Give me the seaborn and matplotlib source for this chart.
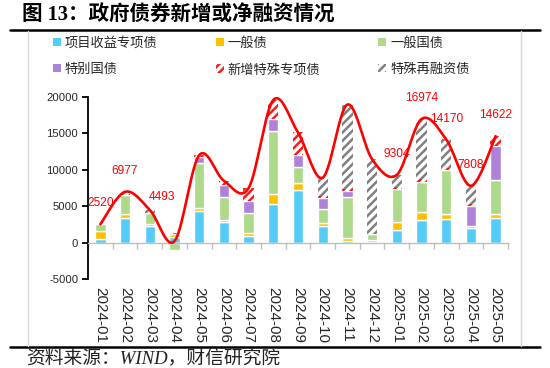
import numpy as np
import pandas as pd
import matplotlib
matplotlib.use("Agg")
import matplotlib.pyplot as plt
import seaborn as sns
from matplotlib.patches import Patch
from matplotlib.lines import Line2D

# ---------------- data ----------------
months = ["2024-01", "2024-02", "2024-03", "2024-04", "2024-05", "2024-06",
          "2024-07", "2024-08", "2024-09", "2024-10", "2024-11", "2024-12",
          "2025-01", "2025-02", "2025-03", "2025-04", "2025-05"]
project_special = [500, 3400, 2250, 780, 4280, 2800, 960, 5280, 7170, 2340,
                   280, 100, 1790, 3170, 3260, 2030, 3400]
general_local = [1150, 550, 320, 370, 460, 370, 420, 1380, 1060, 380,
                 300, 300, 1010, 1060, 600, 220, 460]
general_treasury = [870, 2650, 1520, -1050, 6200, 3080, 2660, 8610, 2210, 1830,
                    5700, 850, 4510, 4090, 6120, -150, 4740]
special_treasury = [0, 0, 0, 0, 830, 1700, 1660, 1650, 1660, 1620,
                    780, 0, 0, 0, 0, 2760, 4690]
new_special_bond = [0, 0, 0, 0, 80, 550, 1790, 2670, 3030, 220,
                    300, 0, 280, 460, 270, 240, 1332]
special_refinance = [0, 377, 403, 100, 150, 0, 0, 0, 0, 2530,
                     11600, 10200, 1714, 8194, 3920, 2708, 0]
label_months = ["2024-01", "2024-02", "2024-03", "2025-01", "2025-02",
                "2025-03", "2025-04", "2025-05"]
label_values = [2520, 6977, 4493, 9304, 16974, 14170, 7808, 14622]
y_ticks = [-5000, 0, 5000, 10000, 15000, 20000]

series_names = ["项目收益专项债", "一般债", "一般国债", "特别国债", "新增特殊专项债", "特殊再融资债"]
df = pd.DataFrame({
    "month": months,
    series_names[0]: project_special,
    series_names[1]: general_local,
    series_names[2]: general_treasury,
    series_names[3]: special_treasury,
    series_names[4]: new_special_bond,
    series_names[5]: special_refinance,
})

# ---------------- style ----------------
sns.set_theme(style="white")
plt.rcParams["font.family"] = ["Liberation Sans", "Noto Sans CJK SC", "DejaVu Sans"]
plt.rcParams["hatch.linewidth"] = 1.8

c_blue = "#55CCF8"
c_orange = "#FFC000"
c_green = "#ADD98A"
c_purple = "#AD82D8"
c_red = "#FF1A1A"
c_grey = "#7F7F7F"

fig = plt.figure(figsize=(5.5, 3.68), dpi=100)
W, H = 550, 368
ax = fig.add_axes([88 / W, 1 - 279 / H, (508 - 88) / W, (279 - 97) / H])

x = np.arange(len(months))
pos_bottom = np.zeros(len(months))
neg_bottom = np.zeros(len(months))
styles = [
    dict(color=c_blue),
    dict(color=c_orange),
    dict(color=c_green),
    dict(color=c_purple),
    dict(facecolor="white", edgecolor=c_red, hatch="////", linewidth=0),
    dict(facecolor="white", edgecolor=c_grey, hatch="////", linewidth=0),
]
bw = 0.42
for name, st in zip(series_names, styles):
    vals = df[name].to_numpy(dtype=float)
    bottoms = np.where(vals >= 0, pos_bottom, neg_bottom)
    ax.bar(x, vals, bottom=bottoms, width=bw, zorder=2, **st)
    pos_bottom = pos_bottom + np.where(vals > 0, vals, 0)
    neg_bottom = neg_bottom + np.where(vals < 0, vals, 0)

totals = df[series_names].sum(axis=1).to_numpy(dtype=float)

# smoothed line (Excel-style bezier through totals)
def smooth(xp, yp, n=30):
    P = np.column_stack([xp, yp]).astype(float)
    out = []
    m = len(P)
    for i in range(m - 1):
        p0 = P[i - 1] if i > 0 else P[i]
        p1 = P[i]
        p2 = P[i + 1]
        p3 = P[i + 2] if i + 2 < m else P[i + 1]
        c1 = p1 + (p2 - p0) / 6.0
        c2 = p2 - (p3 - p1) / 6.0
        t = np.linspace(0, 1, n, endpoint=(i == m - 2))[:, None]
        seg = ((1 - t) ** 3) * p1 + 3 * ((1 - t) ** 2) * t * c1 + 3 * (1 - t) * t ** 2 * c2 + t ** 3 * p2
        out.append(seg)
    out = np.vstack(out)
    return out[:, 0], out[:, 1]

sx, sy = smooth(x, totals)
sns.lineplot(x=sx, y=sy, ax=ax, color="#FF0000", linewidth=1.9, sort=False,
             estimator=None, zorder=4)

# value labels
offsets = {"2024-03": (8.5, 9.5)}
for mth, v in zip(label_months, label_values):
    i = months.index(mth)
    dx, dy = offsets.get(mth, (0, 15))
    ax.annotate(f"{v}", xy=(x[i], v), xytext=(dx, dy), textcoords="offset points",
                ha="center", va="center", color="#FF0000", fontsize=8.6, zorder=5)

# axes
ax.set_xlim(-0.5, len(months) - 0.5)
ax.set_ylim(-5000, 20000)
ax.set_yticks(y_ticks)
ax.set_yticklabels([str(t) for t in y_ticks], fontsize=8.1)
ax.set_xticks(x)
ax.set_xticklabels(months, fontsize=7.6)
ax.set_xticks(np.arange(-0.5, len(months), 1), minor=True)
for s in ["top", "right"]:
    ax.spines[s].set_visible(False)
ax.spines["left"].set_color("black")
ax.spines["left"].set_linewidth(1.3)
ax.spines["bottom"].set_position(("data", 0))
ax.spines["bottom"].set_color("#BFBFBF")
ax.spines["bottom"].set_linewidth(1.0)
ax.spines["bottom"].set_zorder(3)
ax.tick_params(axis="y", which="major", direction="out", length=4, width=1.3,
               color="black", left=True, pad=3)
ax.tick_params(axis="x", which="major", length=0, pad=32, labelrotation=270)
ax.tick_params(axis="x", which="minor", direction="out", length=4, width=1.0,
               color="#BFBFBF", bottom=True)
for lab in ax.get_xticklabels():
    lab.set_verticalalignment("top")
    lab.set_horizontalalignment("center")
    lab.set_rotation(270)
ax.set_xlabel("")
ax.set_ylabel("")
ax.grid(False)
ax.patch.set_alpha(0)

# legend
handles = [
    Patch(facecolor=c_blue, edgecolor="none"),
    Patch(facecolor=c_orange, edgecolor="none"),
    Patch(facecolor=c_green, edgecolor="none"),
    Patch(facecolor=c_purple, edgecolor="none"),
    Patch(facecolor="white", edgecolor=c_red, hatch="////", linewidth=0),
    Patch(facecolor="white", edgecolor=c_grey, hatch="////", linewidth=0),
]
order = [0, 3, 1, 4, 2, 5]
fig.legend([handles[i] for i in order], [series_names[i] for i in order],
           ncol=3, loc="upper left", bbox_to_anchor=(53 / W, 1 - 37 / H),
           frameon=False, fontsize=9.5, handlelength=0.6, handleheight=0.6,
           handletextpad=0.3, columnspacing=4.4, labelspacing=1.05,
           borderpad=0, borderaxespad=0)

# frame, title, source
fig.add_artist(Line2D([10 / W, 540 / W], [1 - 30 / H] * 2, color="black", linewidth=1.8))
fig.add_artist(Line2D([10 / W, 540 / W], [1 - 347 / H] * 2, color="black", linewidth=1.8))
fig.add_artist(Line2D([28 / W, 28 / W], [1 - 31 / H, 1 - 346 / H], color="#D9D9D9", linewidth=1.0))
fig.add_artist(Line2D([521 / W, 521 / W], [1 - 31 / H, 1 - 346 / H], color="#D9D9D9", linewidth=1.0))

fig.text(22 / W, 1 - 16 / H, "图 13：政府债券新增或净融资情况", ha="left", va="center",
         fontsize=14.8, fontweight="bold", color="black",
         family=["Liberation Serif", "Noto Sans CJK SC"])
fig.text(26 / W, 1 - 358 / H, "资料来源：WIND，财信研究院", ha="left", va="center",
         fontsize=13.5, style="italic", color="#222222",
         family=["Liberation Serif", "Noto Sans CJK SC"])

fig.savefig("out.png", dpi=100)
